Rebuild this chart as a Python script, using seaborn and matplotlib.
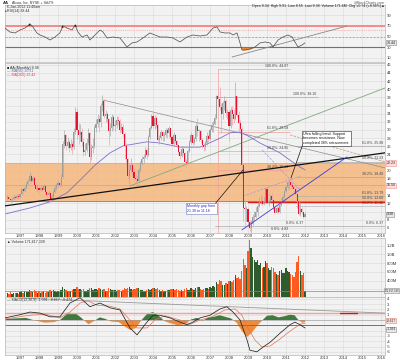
import numpy as np
import pandas as pd
import matplotlib
matplotlib.use("Agg")
import matplotlib.pyplot as plt
import seaborn as sns

# AA monthly candles, May 1996 - Jan 2012 (prices)
close = [
    13.5, 13.2, 12.8, 13.0, 13.6, 13.4, 13.8, 13.6,                      # 1996 May-Dec
    14.2, 15.5, 15.0, 15.8, 16.8, 17.5, 18.8, 17.6, 18.2, 16.4, 15.5, 15.9,  # 1997
    15.2, 15.9, 15.4, 16.3, 14.8, 14.0, 14.6, 13.0, 13.6, 14.8, 15.8, 16.4,  # 1998
    17.0, 16.5, 18.5, 26.5, 28.8, 26.0, 27.0, 25.5, 26.5, 25.8, 29.5, 34.5,  # 1999
    30.0, 28.8, 29.5, 27.0, 24.5, 25.2, 26.8, 29.2, 23.5, 25.5, 26.0, 30.5,  # 2000
    31.5, 32.8, 32.0, 35.8, 37.2, 33.5, 33.8, 32.8, 29.8, 30.5, 33.2, 31.0,  # 2001
    31.2, 32.5, 32.3, 30.0, 30.8, 29.0, 26.0, 22.8, 18.6, 20.2, 21.5, 19.8,  # 2002
    18.3, 18.0, 17.4, 20.2, 21.8, 22.8, 23.4, 25.2, 23.8, 28.3, 30.5, 33.5,  # 2003
    31.0, 33.0, 31.2, 27.6, 28.0, 29.5, 28.6, 28.8, 30.0, 29.2, 30.4, 28.3,  # 2004
    26.6, 28.8, 27.2, 26.2, 24.6, 23.6, 25.3, 24.4, 22.2, 22.0, 24.9, 27.0,  # 2005
    28.7, 26.8, 27.9, 30.9, 29.7, 29.7, 27.6, 26.3, 25.8, 26.7, 28.6, 27.7,  # 2006
    29.9, 31.3, 31.5, 33.0, 38.4, 37.7, 35.6, 33.9, 36.5, 37.1, 34.1, 34.3,  # 2007
    31.0, 34.8, 33.9, 32.8, 38.3, 33.6, 31.8, 30.3, 21.4, 10.9, 10.7, 10.7,  # 2008
    7.4, 6.0, 7.0, 8.7, 8.7, 9.9, 11.3, 12.3, 12.6, 11.9, 12.5, 15.5,        # 2009
    12.2, 12.6, 13.7, 12.9, 11.2, 9.7, 10.8, 9.9, 11.7, 12.7, 13.5, 15.0,    # 2010
    16.1, 17.2, 17.3, 16.6, 16.0, 15.5, 14.4, 12.5, 9.4, 10.6, 9.8, 8.6,     # 2011
    9.38,                                                                 # 2012 Jan
]
high = [
    14.1, 13.9, 13.5, 13.4, 14.0, 14.0, 14.3, 14.2,
    14.6, 15.9, 15.9, 16.2, 17.2, 18.0, 19.6, 19.2, 18.8, 18.6, 16.9, 16.4,
    16.2, 16.3, 16.4, 16.8, 16.5, 15.2, 15.3, 14.8, 14.2, 15.3, 16.4, 17.0,
    17.8, 17.5, 19.2, 27.2, 30.0, 29.0, 28.4, 27.6, 27.8, 27.4, 30.5, 35.6,
    35.4, 31.8, 31.5, 30.4, 28.0, 26.8, 28.0, 30.5, 29.6, 26.6, 28.0, 31.2,
    32.6, 33.8, 33.5, 36.5, 38.6, 37.6, 35.0, 34.4, 33.0, 31.6, 33.8, 33.6,
    32.4, 33.4, 33.4, 32.6, 31.8, 31.4, 29.6, 26.8, 23.2, 21.6, 23.2, 22.0,
    20.8, 19.2, 18.6, 20.8, 22.4, 23.6, 24.0, 25.9, 25.6, 28.8, 31.0, 34.0,
    35.0, 33.6, 33.5, 31.5, 28.8, 30.0, 29.8, 29.4, 30.6, 30.4, 31.0, 30.6,
    28.5, 29.6, 29.0, 27.6, 26.6, 24.8, 26.0, 26.0, 24.6, 22.8, 25.4, 27.5,
    29.4, 29.0, 28.4, 31.6, 33.0, 30.2, 30.0, 28.0, 26.8, 27.2, 29.4, 29.0,
    30.4, 32.0, 32.2, 33.8, 38.6, 39.0, 40.6, 36.6, 37.0, 38.4, 37.6, 35.2,
    34.6, 35.6, 36.0, 35.2, 41.8, 38.4, 34.6, 32.4, 30.8, 21.8, 12.6, 11.4,
    11.0, 8.0, 8.0, 9.4, 10.2, 11.2, 12.3, 13.6, 14.0, 13.8, 13.6, 16.1,
    16.6, 13.0, 14.3, 14.6, 13.2, 11.6, 11.4, 11.3, 12.0, 13.4, 14.0, 15.4,
    16.6, 17.4, 17.6, 18.3, 17.2, 16.4, 16.1, 14.6, 13.0, 12.4, 11.2, 10.0,
    9.91,
]
low = [
    12.9, 12.8, 12.2, 12.4, 12.8, 13.0, 13.1, 13.2,
    13.4, 14.0, 14.6, 14.8, 15.6, 16.6, 17.3, 17.1, 17.3, 16.0, 15.0, 15.1,
    14.6, 15.0, 15.0, 15.2, 14.5, 13.6, 13.8, 12.4, 12.5, 13.2, 14.6, 15.4,
    16.0, 16.0, 16.2, 18.2, 25.6, 25.2, 25.6, 24.6, 25.0, 24.2, 25.4, 29.0,
    27.8, 26.5, 27.4, 26.0, 23.6, 23.8, 24.6, 26.4, 22.0, 22.6, 24.4, 25.6,
    29.6, 30.8, 29.4, 30.8, 34.6, 33.0, 32.0, 31.6, 26.4, 28.6, 29.8, 30.0,
    29.8, 30.4, 31.2, 29.2, 29.4, 28.2, 23.0, 21.4, 18.0, 16.8, 19.6, 19.0,
    17.6, 16.8, 16.5, 17.2, 19.8, 21.4, 21.8, 23.2, 23.0, 23.6, 27.8, 30.2,
    30.4, 30.2, 30.5, 27.2, 26.6, 27.6, 27.4, 27.2, 28.4, 28.0, 28.4, 27.6,
    26.0, 26.3, 26.8, 25.8, 23.8, 23.0, 23.4, 23.8, 21.6, 20.9, 21.8, 24.6,
    26.6, 26.4, 26.6, 27.4, 28.5, 27.4, 26.8, 25.6, 24.8, 25.2, 26.4, 27.0,
    27.6, 29.6, 29.6, 31.2, 32.6, 36.2, 34.8, 29.2, 32.6, 35.0, 33.2, 32.6,
    27.4, 30.6, 31.2, 31.6, 32.4, 33.2, 29.4, 29.6, 18.2, 7.6, 6.4, 7.8,
    6.6, 5.2, 4.8, 6.8, 7.6, 8.4, 8.8, 11.2, 11.8, 11.4, 11.6, 12.2,
    12.0, 11.4, 12.4, 12.6, 10.5, 9.6, 9.6, 9.6, 9.6, 11.4, 12.8, 13.4,
    14.8, 15.6, 15.6, 16.0, 15.6, 14.6, 14.2, 10.8, 9.2, 8.9, 9.4, 8.4,
    8.55,
]
volume_m = [
    120, 100, 135, 90, 105, 115, 125, 95,
    140, 150, 120, 160, 130, 145, 190, 155, 140, 175, 150, 120,
    155, 125, 140, 150, 120, 145, 130, 195, 170, 175, 150, 140,
    165, 145, 190, 260, 205, 175, 155, 165, 150, 180, 200, 215,
    245, 210, 205, 190, 200, 170, 155, 175, 240, 230, 190, 205,
    200, 175, 220, 210, 190, 205, 150, 170, 230, 210, 190, 175,
    190, 170, 175, 190, 155, 180, 240, 205, 230, 250, 200, 190,
    210, 200, 230, 220, 195, 175, 170, 155, 175, 210, 195, 205,
    240, 220, 205, 230, 190, 165, 175, 155, 170, 190, 175, 200,
    210, 205, 180, 200, 190, 170, 180, 165, 205, 220, 190, 175,
    225, 200, 190, 240, 260, 245, 210, 180, 200, 220, 240, 205,
    260, 240, 280, 250, 360, 330, 420, 390, 300, 310, 340, 320,
    400, 380, 360, 420, 520, 460, 480, 430, 620, 900, 760, 700,
    1080, 1330, 1160, 950, 880, 820, 870, 760, 800, 700, 720, 860,
    800, 680, 640, 720, 680, 600, 560, 520, 610, 640, 580, 570,
    700, 630, 600, 560, 520, 480, 590, 820, 960, 620, 540, 580,
    171.6,
]
first_open = 13.3

# moving average (purple), read at points along the curve
ma_t = [1996.21, 1997.53, 1998.58, 1999.47, 2000.16, 2000.95, 2001.74, 2002.42,
        2003.68, 2004.37, 2005.42, 2006.47, 2007.53, 2008.05, 2008.58, 2009.10,
        2009.63, 2010.16, 2010.68, 2011.21, 2011.74, 2012.0]
ma_v = [9.4, 10.9, 12.4, 14.6, 17.7, 21.4, 24.4, 26.1,
        27.1, 26.8, 25.8, 25.8, 28.0, 29.3, 29.5, 28.3,
        26.8, 25.6, 24.4, 22.6, 20.9, 20.2]

# RSI(14)
rsi_t = [1996.21, 1996.47, 1996.74, 1997.0, 1997.26, 1997.53, 1997.68, 1997.89, 1998.05, 1998.32,
         1998.58, 1998.84, 1999.1, 1999.26, 1999.47, 1999.74, 1999.9, 2000.05, 2000.26, 2000.53,
         2000.68, 2000.95, 2001.21, 2001.37, 2001.58, 2001.89, 2002.26, 2002.63, 2002.89, 2003.16,
         2003.47, 2003.84, 2004.1, 2004.37, 2004.74, 2005.05, 2005.42, 2005.79, 2006.1, 2006.47,
         2006.84, 2007.16, 2007.37, 2007.53, 2007.79, 2008.05, 2008.21, 2008.42, 2008.58, 2008.68,
         2008.84, 2009.1, 2009.37, 2009.63, 2009.89, 2010.16, 2010.32, 2010.58, 2010.84, 2011.1,
         2011.32, 2011.47, 2011.63, 2011.84, 2012.0]
rsi_v = [66.2, 58.7, 56.9, 62.5, 66.2, 73.8, 68.1, 56.9, 53.1, 49.3,
         43.7, 49.3, 56.9, 70.0, 66.2, 62.5, 71.9, 58.7, 49.3, 53.1,
         43.7, 53.1, 62.5, 58.7, 47.5, 49.3, 47.5, 30.6, 38.1, 40.0,
         47.5, 56.9, 53.1, 49.3, 49.3, 47.5, 40.0, 49.3, 53.1, 51.2,
         53.1, 66.2, 68.1, 58.7, 56.9, 56.9, 53.1, 56.9, 38.1, 25.0,
         25.0, 26.8, 30.6, 38.1, 40.0, 38.1, 30.6, 43.7, 49.3, 53.1,
         49.3, 40.0, 30.6, 34.3, 38.4]
sig_t = [1997.47, 1999.21, 1999.89]
sig_v = [73.8, 70.0, 71.9]
rsi_trend_t = [2008.16, 2014.21]
rsi_trend_v = [11.8, 70.0]

# MACD(12,26,9)
macd_t = [1996.21, 1997.0, 1997.53, 1998.05, 1998.58, 1999.1, 1999.63, 2000.16, 2000.68, 2001.21,
          2001.74, 2002.26, 2002.79, 2003.16, 2003.68, 2004.0, 2004.37, 2004.89, 2005.42, 2005.79,
          2006.1, 2006.47, 2007.0, 2007.53, 2007.89, 2008.21, 2008.58, 2008.95, 2009.1, 2009.47,
          2009.79, 2010.16, 2010.68, 2011.21, 2011.47, 2011.74, 2012.0]
macd_v = [0.4, 1.0, 1.5, 1.3, 0.6, 0.6, 3.2, 4.2, 2.5, 3.2,
          2.3, 1.9, -1.5, -2.8, -0.4, 0.9, 0.9, 0.4, -0.4, -0.9,
          -0.4, 0.4, 0.9, 2.1, 2.5, 1.5, 0.0, -3.8, -5.7, -6.0,
          -5.1, -4.2, -2.5, -0.9, -0.4, -0.9, -1.5]
signal_t = [1996.21, 1997.53, 1998.32, 1999.1, 1999.63, 2000.16, 2000.58, 2001.05, 2001.74, 2002.26,
            2002.68, 2003.16, 2003.68, 2004.1, 2004.63, 2005.42, 2005.95, 2006.47, 2007.1, 2007.79,
            2008.32, 2008.68, 2009.0, 2009.37, 2009.74, 2010.16, 2010.68, 2011.21, 2011.74, 2012.0]
signal_v = [0.2, 0.9, 1.1, 0.4, 1.5, 3.2, 3.6, 2.8, 2.6, 2.1,
            0.4, -1.5, -1.5, 0.0, 0.8, 0.0, -0.8, 0.0, 0.6, 1.9,
            2.1, 0.9, -1.5, -3.8, -5.1, -4.9, -3.6, -2.1, -0.8, -0.6]
hist_t = [1996.2, 1996.8, 1997.3, 1997.8, 1998.3, 1998.8, 1999.1, 1999.5, 1999.9, 2000.2,
          2000.6, 2000.9, 2001.2, 2001.5, 2001.8, 2002.2, 2002.5, 2002.8, 2003.1, 2003.4,
          2003.7, 2004.0, 2004.3, 2004.6, 2004.9, 2005.3, 2005.7, 2006.0, 2006.3, 2006.6,
          2006.9, 2007.2, 2007.5, 2007.8, 2008.1, 2008.4, 2008.7, 2008.95, 2009.2, 2009.5,
          2009.8, 2010.0, 2010.3, 2010.6, 2010.9, 2011.2, 2011.45, 2011.65, 2011.85, 2012.0]
hist_v = [0.2, 0.3, 0.4, -0.1, -0.5, -0.4, 0.0, 1.2, 1.3, 0.5,
          -0.8, -0.2, 0.5, 0.2, -0.3, -0.4, -1.2, -1.9, -1.5, 0.0,
          1.2, 1.5, 0.8, -0.2, -0.6, -1.0, -0.8, 0.1, 0.4, -0.2,
          0.5, 0.6, 0.9, 0.6, 0.3, -0.5, -2.2, -3.2, -2.4, -1.0,
          0.1, 0.8, 0.9, 0.5, 0.7, 1.0, 0.9, 0.0, -0.5, -0.4]

# drawn annotation lines (dates, prices)
black_t, black_p = [1996.21, 2016.21], [11.4, 24.4]
green_t, green_p = [2002.79, 2016.21], [16.3, 40.3]
down_t, down_p = [2001.37, 2016.21], [37.35, 20.7]
blue_t, blue_p = [2008.68, 2014.21], [5.5, 23.4]
lav1_t, lav1_p = [2008.74, 2011.74], [13.8, 18.7]
lav2_t, lav2_p = [2009.74, 2011.74], [25.1, 15.3]
tan_t, tan_p = [2011.21, 2016.21], [28.8, 22.2]
band_lo, band_hi = 12.5, 21.9
support_level = 12.4
mid_level = 16.5
fib_a = [44.87, 29.58, 24.85, 20.13, 4.83]
fib_b = [38.10, 25.98, 22.23, 18.49, 6.37]
fib_c = [13.79, 12.60, 11.41]
fib_pct = [100.0, 61.8, 50.0, 38.2, 0.0]
fib_pct_c = [61.8, 50.0, 38.2]
macd_trend_t, macd_trend_v = [1997.0, 2016.21], [4.15, 1.3]
years = list(range(1997, 2017))

# ---------------------------------------------------------------
months = pd.date_range("1996-05-01", "2012-01-01", freq="MS")
df = pd.DataFrame({
    "t": months.year + (months.month - 1) / 12.0,
    "close": close, "high": high, "low": low,
    "vol": np.array(volume_m) * 1e6,
})
df["open"] = df["close"].shift(1).fillna(first_open)
df["up"] = df["close"] >= df["open"]

sns.set_style("whitegrid", {"axes.facecolor": "#f2f2f2", "grid.color": "#d9d9d9",
                            "axes.edgecolor": "#b5b5b5"})
plt.rcParams['font.family'] = ['Liberation Sans', 'DejaVu Sans']

fig = plt.figure(figsize=(4, 3.61), dpi=100)


def rect(top, bottom):
    return [5 / 400, 1 - bottom / 361, 380 / 400, (bottom - top) / 361]


ax_rsi = fig.add_axes(rect(5, 62))
ax = fig.add_axes(rect(63, 233))
ax_vol = fig.add_axes(rect(238, 297))
ax_macd = fig.add_axes(rect(297, 355))

for a in (ax_rsi, ax, ax_vol, ax_macd):
    a.set_xlim(1996.21, 2016.21)
    a.set_xticks(years)
    a.set_xticklabels([str(y) for y in years])
    a.yaxis.tick_right()
    a.tick_params(axis='both', labelsize=3, length=0, pad=1.5, colors='#333333')
    a.grid(True, color='#d9d9d9', lw=0.4)
    for s in a.spines.values():
        s.set_color('#b5b5b5')
        s.set_linewidth(0.5)
ax_rsi.tick_params(labelbottom=False)
ax_vol.tick_params(labelbottom=False)
ax.tick_params(axis='x', pad=0.6)
ax_macd.tick_params(axis='x', pad=0.6)

small = dict(fontsize=2.6, color='#444444')


def right_box(a, y, s, fc, ec, size=2.6):
    a.text(1.004, y, s, transform=a.get_yaxis_transform(), fontsize=size, va='center', ha='left',
           color='#222222', bbox=dict(boxstyle='square,pad=0.15', fc=fc, ec=ec, lw=0.4), zorder=10,
           clip_on=False)


def set_right_ticks(a, ticks, labels, hide):
    a.set_yticks(ticks)
    a.set_yticklabels(["" if t in hide else lab for t, lab in zip(ticks, labels)])


# ---------------- RSI panel ----------------
ax_rsi.set_ylim(2.4, 109.4)
ax_rsi.set_yticks([10, 30, 50, 70, 90])
ax_rsi.axhline(70, color='#f28b8b', lw=1.4, zorder=2)
ax_rsi.axhline(63, color='#f08080', lw=0.5, ls=':', zorder=2)
ax_rsi.axhline(50, color='#999999', lw=0.5, ls=(0, (3, 2)), zorder=2)
ax_rsi.axhline(30, color='#4d8a4d', lw=0.8, zorder=2)
rv = np.array(rsi_v)
ax_rsi.fill_between(rsi_t, rv, 30, where=rv < 30, interpolate=True, color='#f0892f', lw=0, zorder=3)
sns.lineplot(x=rsi_trend_t, y=rsi_trend_v, ax=ax_rsi, color='#888888', lw=0.6)
sns.lineplot(x=rsi_t, y=rsi_v, ax=ax_rsi, color='#555555', lw=0.55, zorder=4)
ax_rsi.scatter(sig_t, sig_v, marker='^', s=3, color='#222222', zorder=5, lw=0)
right_box(ax_rsi, rsi_v[-1], "38.44", '#e8e8e8', '#888888')

# ---------------- price panel ----------------
ax.set_ylim(4.75, 46.42)
pt = list(range(6, 47, 2))
set_right_ticks(ax, pt, [str(v) for v in pt], hide=(10, 16, 22))
ax.axhspan(band_lo, band_hi, color='#f5b57a', alpha=0.82, lw=0, zorder=1.5)
ax.axhline(band_hi, color='#f0a0a0', lw=0.6, zorder=2)
ax.axhline(mid_level, color='#ee9a80', lw=0.6, zorder=2)
ax.axhline(band_lo, color='#6f9f6f', lw=0.7, zorder=2)
ax.plot([2009.0, 2016.21], [support_level] * 2, color='#e01b1b', lw=1.0, zorder=3)

# fibonacci sets
ax.plot([2007.42, 2007.42], [fib_a[-1], fib_a[0]], color='#f3a0a0', lw=0.5, zorder=2)
for lvl, pct in zip(fib_a, fib_pct):
    ax.plot([2007.42, 2011.21], [lvl, lvl], color='#f3a0a0', lw=0.5, zorder=2)
    ax.text(2011.1, lvl + 0.35, f"{pct:.1f}%: {lvl:.2f}", ha='right', va='bottom', **small, zorder=6)
for i, (lvl, pct) in enumerate(zip(fib_b, fib_pct)):
    x0 = 2007.26 if i in (0, 4) else 2011.5
    x1 = 2012.68 if i == 0 else 2016.21
    ax.plot([x0, x1], [lvl, lvl], color='#a8a8a8', lw=0.5, zorder=2)
    ax.text(x1 - 0.1, lvl + 0.35, f"{pct:.1f}%: {lvl:.2f}", ha='right', va='bottom', **small, zorder=6)
ax.text(2011.9, fib_b[-1] + 0.35, f"0.0%: {fib_b[-1]:.2f}", ha='right', va='bottom', **small, zorder=6)
for lvl, pct in zip(fib_c, fib_pct_c):
    ax.plot([2011.5, 2016.21], [lvl, lvl], color='#b0b0b0', lw=0.45, zorder=2)
    ax.text(2016.1, lvl + 0.3, f"{pct:.1f}%: {lvl:.2f}", ha='right', va='bottom', **small, zorder=6)

# trend lines
sns.lineplot(x=down_t, y=down_p, ax=ax, color='#8c8c8c', lw=0.5)
sns.lineplot(x=green_t, y=green_p, ax=ax, color='#7faa7f', lw=0.6)
sns.lineplot(x=lav1_t, y=lav1_p, ax=ax, color='#a49ae0', lw=0.5, ls='--')
sns.lineplot(x=lav2_t, y=lav2_p, ax=ax, color='#a49ae0', lw=0.5, ls='--')
sns.lineplot(x=tan_t, y=tan_p, ax=ax, color='#b89a7a', lw=0.5, ls='--')
sns.lineplot(x=ma_t, y=ma_v, ax=ax, color='#7c6fcf', lw=0.6)

# candles
wick_col = np.where(df["up"], '#a5a5a5', '#f39aa4')
body_col = np.where(df["up"], '#9d9d9d', '#ea1030')
ax.vlines(df["t"], df["low"], df["high"], colors=wick_col, lw=0.45, zorder=4)
body_lo = np.minimum(df["open"], df["close"])
body_h = np.maximum((df["close"] - df["open"]).abs(), 0.2)
ax.bar(df["t"], body_h, bottom=body_lo, width=0.06, color=body_col, lw=0, zorder=5)

sns.lineplot(x=black_t, y=black_p, ax=ax, color='#111111', lw=0.9, zorder=6)
sns.lineplot(x=blue_t, y=blue_p, ax=ax, color='#3b3bd9', lw=0.6, zorder=6)

# notes
ax.text(2011.92, 29.6, "Ultra falling band. Support\nbecomes resistance. Now\ncompleted 38% retracement.",
        fontsize=2.6, va='top', ha='left', linespacing=1.15, color='#111111', zorder=9,
        bbox=dict(boxstyle='square,pad=0.3', fc='white', ec='#222222', lw=0.4))
ax.plot([2011.89, 2011.26], [26.57, 18.24], color='#111111', lw=0.5, zorder=8)
ax.text(2005.8, 11.75, "Monthly gap from\n21.38 to 11.18", fontsize=2.6, va='top', ha='left',
        linespacing=1.15, color='#2a2ad0', zorder=9,
        bbox=dict(boxstyle='square,pad=0.3', fc='white', ec='#6a7ac0', lw=0.4))
ax.plot([2007.26, 2008.74], [11.86, 20.2], color='#111111', lw=0.5, zorder=8)

right_box(ax, band_hi, f"{fib_b[2]:.2f}", '#fbe0e0', '#f09090')
right_box(ax, mid_level, "16.50", '#fbe0e0', '#f09090')
right_box(ax, close[-1], f"{close[-1]:.2f}", '#e8e8e8', '#888888')

ax.text(0.004, 0.985, "\u25a0 AA (Monthly) 9.38", transform=ax.transAxes, fontsize=2.6,
        va='top', color='#222222', zorder=9)
ax.text(0.004, 0.962, "\u2014 MA(50) 20.21", transform=ax.transAxes, fontsize=2.6,
        va='top', color='#6a5fc0', zorder=9)
ax.text(0.004, 0.939, "\u2014 MA(200) 23.42", transform=ax.transAxes, fontsize=2.6,
        va='top', color='#e04040', zorder=9)

# ---------------- volume panel ----------------
ax_vol.set_ylim(23e6, 1379e6)
set_right_ticks(ax_vol, [200e6, 400e6, 600e6, 800e6, 1000e6, 1200e6],
                ["200M", "400M", "600M", "800M", "1.0B", "1.2B"], hide=(200e6,))
vol_col = np.where(df["close"] >= df["close"].shift(1).fillna(first_open), '#2e5c2e', '#ff5a22')
ax_vol.bar(df["t"], df["vol"], width=0.075, color=vol_col, lw=0, zorder=3)
ax_vol.axhline(df["vol"].iloc[-1], color='#888888', lw=0.5, zorder=4)
ax_vol.text(0.999, df["vol"].iloc[-1], "171,617,339", transform=ax_vol.get_yaxis_transform(),
            fontsize=1.9, va='center', ha='left', color='#222222', zorder=10, clip_on=False,
            bbox=dict(boxstyle='square,pad=0.12', fc='#e8e8e8', ec='#888888', lw=0.4))
ax_vol.text(0.006, 0.975, "\u25b2 Volume 171,617,339", transform=ax_vol.transAxes, fontsize=2.6,
            va='top', color='#333333')

# ---------------- MACD panel ----------------
ax_macd.set_ylim(-6.6, 4.34)
mt = list(range(-6, 5))
set_right_ticks(ax_macd, mt, [str(v) for v in mt], hide=(0, -1, -2))
hv = np.array(hist_v)
ax_macd.fill_between(hist_t, hv, 0, where=hv >= 0, interpolate=True, color='#3f7a3f', lw=0, zorder=2)
ax_macd.fill_between(hist_t, hv, 0, where=hv <= 0, interpolate=True, color='#f08a38', lw=0, zorder=2)
ax_macd.axhline(0, color='#999999', lw=0.4, zorder=2)
ax_macd.axhline(1.3, color='#f4a0a0', lw=1.0, zorder=2)
ax_macd.plot([2013.84, 2014.74], [1.3, 1.3], color='#b02020', lw=1.0, zorder=3)
ax_macd.axhline(-0.94, color='#4d8a4d', lw=0.7, zorder=2)
sns.lineplot(x=macd_trend_t, y=macd_trend_v, ax=ax_macd, color='#999999', lw=0.6)
sns.lineplot(x=signal_t, y=signal_v, ax=ax_macd, color='#e2735a', lw=0.5, zorder=4)
sns.lineplot(x=macd_t, y=macd_v, ax=ax_macd, color='#222222', lw=0.55, zorder=5)
right_box(ax_macd, -0.15, "-0.617", '#fbe0e0', '#e08070', size=2.3)
right_box(ax_macd, -1.75, "-1.091", '#e8e8e8', '#888888', size=2.3)
ax_macd.text(0.004, 0.985, "\u2014 MACD(12,26,9) -1.091, -0.617, -0.474", transform=ax_macd.transAxes,
             fontsize=2.6, va='top', color='#333333')

for a in (ax_rsi, ax, ax_vol, ax_macd):
    a.set_xlabel("")
    a.set_ylabel("")
    a.set_xlim(1996.21, 2016.21)

# ---------------- header ----------------
fig.text(3 / 400, 1 - 2.5 / 361, "AA", fontsize=3, weight='bold', va='center', color='#222222')
fig.text(12 / 400, 1 - 2.5 / 361, "Alcoa, Inc. NYSE + StkTS", fontsize=2.6, va='center', color='#333333')
fig.text(7 / 400, 1 - 7 / 361, "6-Jan-2012 11:40am", fontsize=2.6, va='center', color='#333333')
fig.text(7 / 400, 1 - 11 / 361, "RSI(14) 38.44", fontsize=2.6, va='center', color='#333333')
fig.text(3 / 400, 1 - 11 / 361, "\u25b2", fontsize=2.6, va='center', color='#3a8a3a')
fig.text(385 / 400, 1 - 2.5 / 361, "@StockCharts.com", fontsize=2.6, va='center', ha='right', color='#555555')
fig.text(385 / 400, 1 - 6.5 / 361,
         "Open 9.34  High 9.91  Low 8.55  Last 9.38  Volume 171.6M  Chg +0.74 (+8.56%)\u25b2",
         fontsize=2.6, va='center', ha='right', color='#222222')

fig.savefig("out.png", dpi=100)
